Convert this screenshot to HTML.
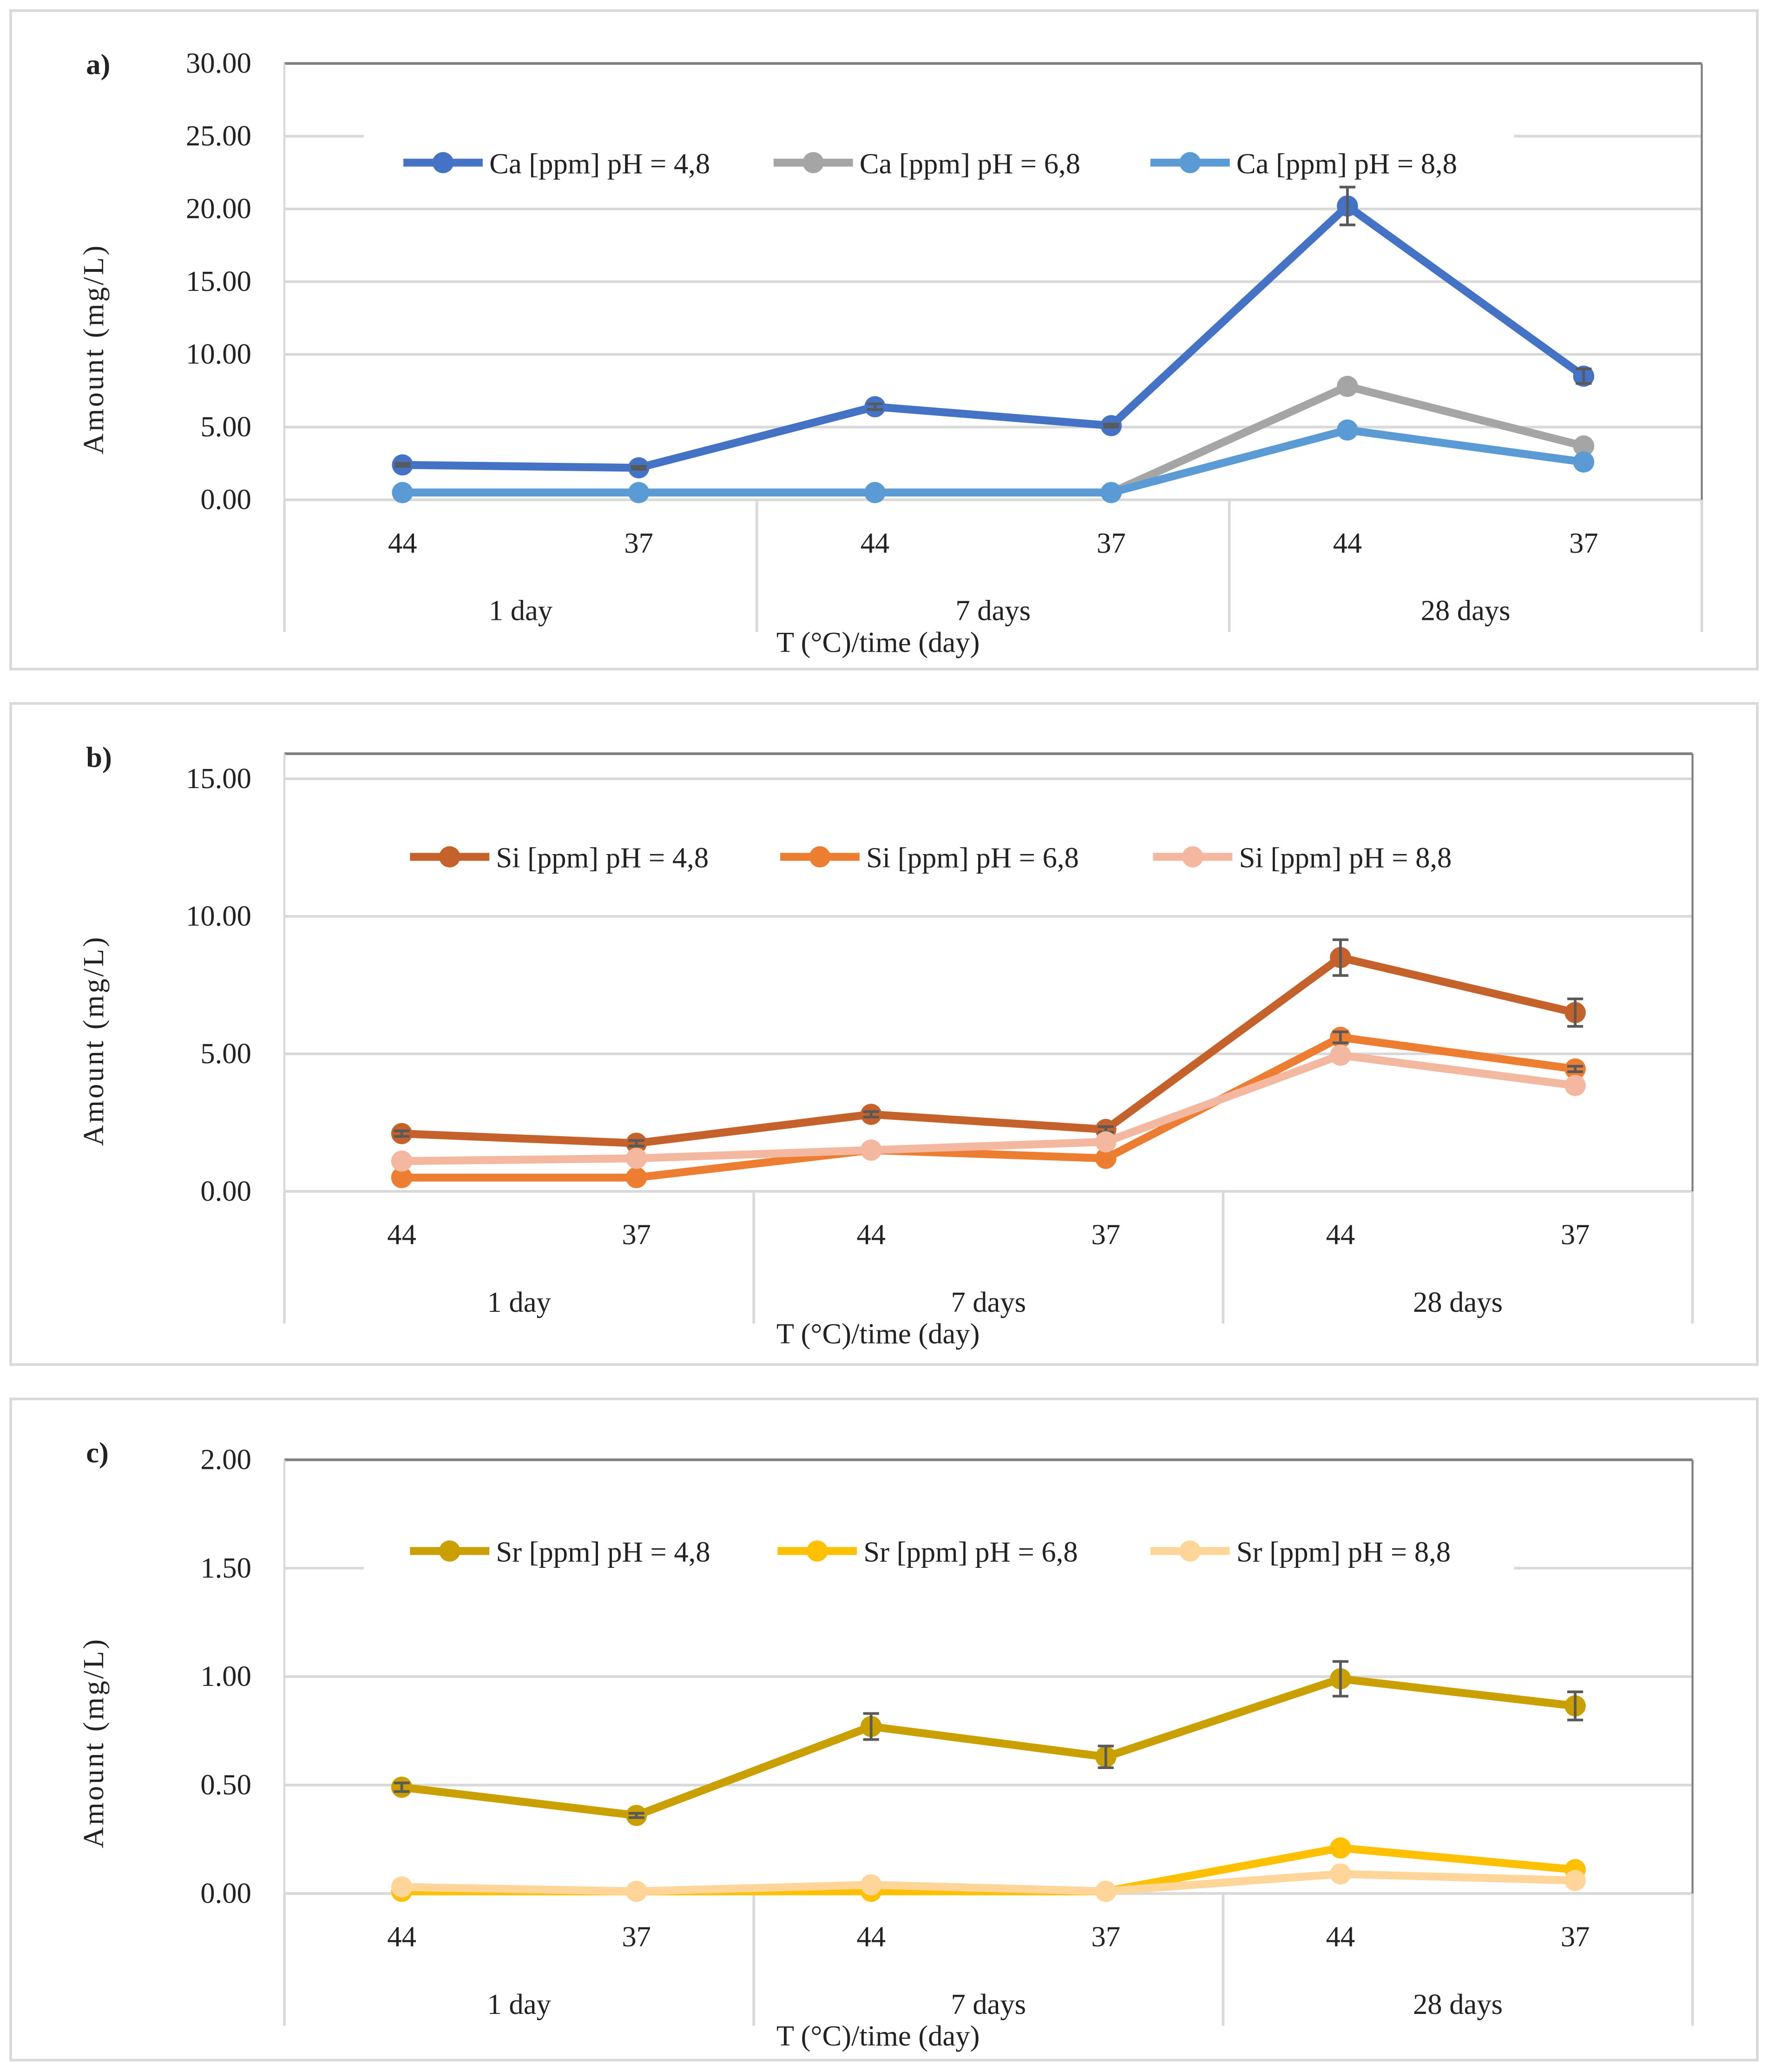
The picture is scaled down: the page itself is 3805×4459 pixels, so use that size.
<!DOCTYPE html>
<html><head><meta charset="utf-8">
<style>
html,body{margin:0;padding:0;background:#fff;}
svg{display:block;}
text{font-family:"Liberation Serif",serif;fill:#222;}
</style></head>
<body>
<svg id="fig" width="3805" height="4459" viewBox="0 0 1337 1567" xmlns="http://www.w3.org/2000/svg"></svg>
<script>
const categories = ["44","37","44","37","44","37"];
const groups = ["1 day","7 days","28 days"];
const caSeries = ["Ca [ppm] pH = 4,8","Ca [ppm] pH = 6,8","Ca [ppm] pH = 8,8"];
const ca48 = [2.4,2.2,6.4,5.1,20.2,8.5];
const ca68 = [0.5,0.5,0.5,0.5,7.8,3.7];
const ca88 = [0.5,0.5,0.5,0.5,4.8,2.6];
const ca48err = [0.1,0.1,0.2,0.1,1.3,0.5];
const caTicks = ["0.00","5.00","10.00","15.00","20.00","25.00","30.00"];
const siSeries = ["Si [ppm] pH = 4,8","Si [ppm] pH = 6,8","Si [ppm] pH = 8,8"];
const si48 = [2.1,1.75,2.8,2.25,8.5,6.5];
const si68 = [0.5,0.5,1.5,1.2,5.6,4.45];
const si88 = [1.1,1.2,1.5,1.8,4.95,3.85];
const si48err = [0.1,0.1,0.1,0.1,0.65,0.5];
const si68err = [0,0,0,0,0.2,0.1];
const siTicks = ["0.00","5.00","10.00","15.00"];
const srSeries = ["Sr [ppm] pH = 4,8","Sr [ppm] pH = 6,8","Sr [ppm] pH = 8,8"];
const sr48 = [0.49,0.36,0.77,0.63,0.99,0.865];
const sr68 = [0.01,0.01,0.01,0.01,0.21,0.11];
const sr88 = [0.03,0.01,0.04,0.01,0.09,0.06];
const sr48err = [0.02,0.01,0.06,0.05,0.08,0.065];
const srTicks = ["0.00","0.50","1.00","1.50","2.00"];

const NS="http://www.w3.org/2000/svg";
const svg=document.getElementById('fig');
function mk(tag,attrs,parent){const e=document.createElementNS(NS,tag);for(const k in attrs)e.setAttribute(k,attrs[k]);(parent||svg).appendChild(e);return e;}
const FS=22;
function panel(cfg){
  const g=mk('g',{});
  
  
  const fr=mk('rect',{x:8,y:cfg.boxTop,width:1321,height:cfg.boxH,fill:'#fff',stroke:'#d9d9d9','stroke-width':2},g);
  
  
  const L=215,R=cfg.right,top=cfg.plotTop,y0=cfg.y0;
  const ys=v=>y0-(v-0)*(y0-cfg.yAt1)/cfg.unitVal;
  const xs=i=>L+(i+0.5)*(R-L)/6;
  cfg.ticks.forEach((t,i)=>{
    const v=parseFloat(t);const y=ys(v);
    const gl=mk('line',{x1:L,x2:R,y1:y,y2:y,stroke:'#d9d9d9','stroke-width':2},g);
    
    
    const tl=mk('text',{x:190,y:y+7,'text-anchor':'end','font-size':FS},g);
    tl.textContent=t;
    
    
  });
  const tb=mk('line',{x1:L,x2:R,y1:top,y2:top,stroke:'#7f7f7f','stroke-width':2},g);
  
  
  mk('line',{x1:L,x2:L,y1:top,y2:y0,stroke:'#d9d9d9','stroke-width':1.5},g);
  mk('line',{x1:R,x2:R,y1:top,y2:y0,stroke:'#7f7f7f','stroke-width':1.5},g);
  if(cfg.legBg){const lb=mk('rect',{x:275,y:cfg.legY-30,width:870,height:50,fill:'#fff'},g);
    }
  for(let k=0;k<=3;k++){const x=L+k*(R-L)/3;
    const d=mk('line',{x1:x,x2:x,y1:y0,y2:y0+100,stroke:'#d9d9d9','stroke-width':2},g);
    }
  categories.forEach((c,i)=>{const t=mk('text',{x:xs(i),y:y0+40,'text-anchor':'middle','font-size':FS},g);t.textContent=c;
    });
  groups.forEach((c,k)=>{const t=mk('text',{x:L+(k+0.5)*(R-L)/3,y:y0+91,'text-anchor':'middle','font-size':FS},g);t.textContent=c;
    });
  const xt=mk('text',{x:664,y:y0+115,'text-anchor':'middle','font-size':FS},g);xt.textContent='T (°C)/time (day)';
  
  const cy=y0-114;
  const yt=mk('text',{x:78,y:cy,'text-anchor':'middle','font-size':22,'letter-spacing':1.5,transform:`rotate(-90 78 ${cy})`},g);yt.textContent='Amount (mg/L)';
  
  const pl=mk('text',{x:65,y:cfg.boxTop+48,'font-size':FS,'font-weight':'bold'},g);pl.textContent=cfg.label;
  
  cfg.series.forEach((s,si)=>{
    const sg=mk('g',{},g);
    
    
    const pts=s.vals.map((v,i)=>xs(i)+','+ys(v)).join(' ');
    mk('polyline',{points:pts,fill:'none',stroke:s.color,'stroke-width':6,'stroke-linejoin':'round'},sg);
    s.vals.forEach((v,i)=>{
      const c=mk('circle',{cx:xs(i),cy:ys(v),r:8,fill:s.color},sg);
      
      
    });
    if(s.err){s.vals.forEach((v,i)=>{const e=s.err[i];if(!e)return;const x=xs(i);
      const eb=mk('path',{d:`M${x},${ys(v-e)}V${ys(v+e)}M${x-6},${ys(v-e)}H${x+6}M${x-6},${ys(v+e)}H${x+6}`,stroke:'#595959','stroke-width':2,fill:'none'},sg);
      });}
    const lx=cfg.legX[si];
    const lg=mk('g',{},g);
    
    
    mk('line',{x1:lx,x2:lx+60,y1:cfg.legY,y2:cfg.legY,stroke:s.color,'stroke-width':6},lg);
    mk('circle',{cx:lx+30,cy:cfg.legY,r:8,fill:s.color},lg);
    const lt=mk('text',{x:lx+65,y:cfg.legY+8,'font-size':FS},lg);lt.textContent=s.name;
  });
}

panel({name:'panel-a-calcium',label:'a)',boxTop:8,boxH:498,right:1287,plotTop:48,y0:378,yAt1:323,unitVal:5,
  ticks:caTicks,legY:123,legBg:true,legX:[305,585,870],
  series:[{name:caSeries[0],vals:ca48,color:'#4472C4',err:ca48err},{name:caSeries[1],vals:ca68,color:'#A5A5A5'},{name:caSeries[2],vals:ca88,color:'#5B9BD5'}]});
panel({name:'panel-b-silicon',label:'b)',boxTop:532,boxH:500,right:1280,plotTop:570,y0:901,yAt1:797,unitVal:5,
  ticks:siTicks,legY:648,legBg:false,legX:[310,590,872],
  series:[{name:siSeries[0],vals:si48,color:'#C5622B',err:si48err},{name:siSeries[1],vals:si68,color:'#ED7D31',err:si68err},{name:siSeries[2],vals:si88,color:'#F4B7A0'}]});
panel({name:'panel-c-strontium',label:'c)',boxTop:1058,boxH:500,right:1280,plotTop:1104,y0:1432,yAt1:1350,unitVal:0.5,
  ticks:srTicks,legY:1173,legBg:true,legX:[310,588,870],
  series:[{name:srSeries[0],vals:sr48,color:'#C9A000',err:sr48err},{name:srSeries[1],vals:sr68,color:'#FFC000'},{name:srSeries[2],vals:sr88,color:'#FFD59A'}]});
</script>
</body></html>
